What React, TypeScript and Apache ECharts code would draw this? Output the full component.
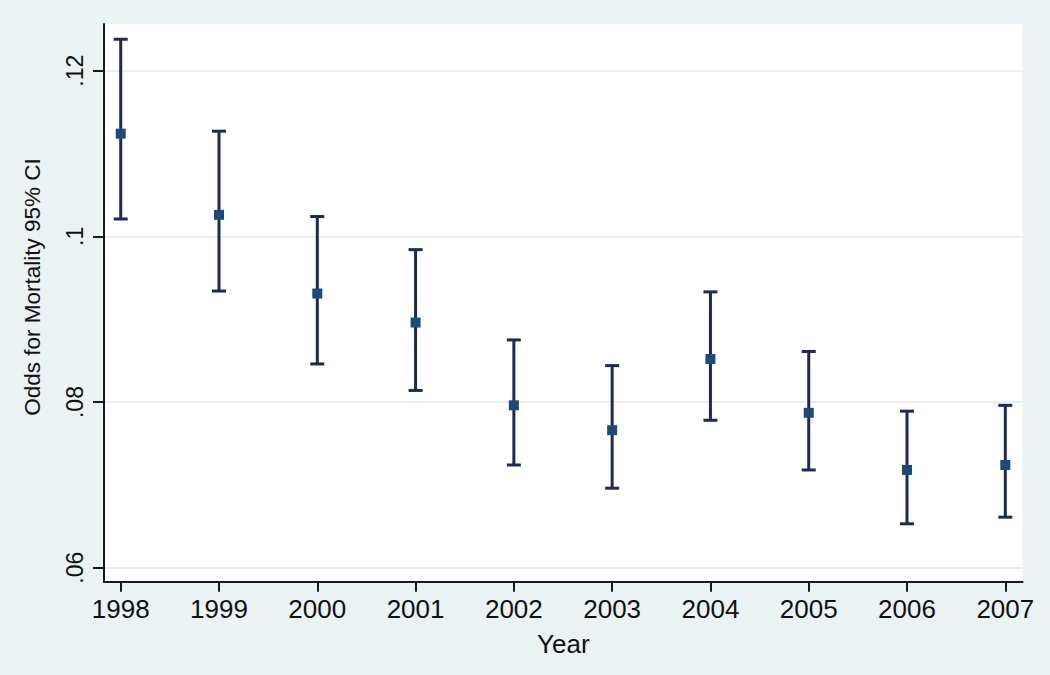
import React, { useEffect, useRef } from "react";
import * as echarts from "echarts";

const years = [1998, 1999, 2000, 2001, 2002, 2003, 2004, 2005, 2006, 2007];
const odds = [0.1124, 0.1026, 0.0931, 0.0896, 0.0796, 0.0766, 0.0852, 0.0787, 0.0718, 0.0724];
const lowerCI = [0.1021, 0.0934, 0.0846, 0.0814, 0.0724, 0.0696, 0.0778, 0.0718, 0.0653, 0.0661];
const upperCI = [0.1238, 0.1127, 0.1024, 0.0984, 0.0875, 0.0844, 0.0933, 0.0861, 0.0789, 0.0796];
const yTickValues = [0.06, 0.08, 0.1, 0.12];
const yTickLabels = [".06", ".08", ".1", ".12"];

const FONT = "'Liberation Sans', Arial, Helvetica, sans-serif";
const BAR = "#1b2a58";
const MARK = "#1d4a78";
const AXIS = "#1a1a1a";
const GRIDC = "#e6eff1";

export default function App() {
  const ref = useRef<HTMLDivElement>(null);
  useEffect(() => {
    if (!ref.current) return;
    const chart = echarts.init(ref.current, undefined, { renderer: "svg" });
    const ciData = years.map((y, i) => [y, lowerCI[i], upperCI[i]]);
    const option: any = {
      animation: false,
      backgroundColor: "#eaf2f3",
      grid: {
        left: 104,
        right: 27.4,
        top: 24,
        bottom: 93.3,
        show: true,
        backgroundColor: "#ffffff",
        borderWidth: 0,
      },
      xAxis: {
        type: "value",
        min: 1997.83,
        max: 2007.176,
        name: "Year",
        nameLocation: "middle",
        nameGap: 49,
        nameTextStyle: { fontFamily: FONT, fontSize: 26, color: "#111" },
        axisLine: { show: true, onZero: false, lineStyle: { color: AXIS, width: 2 } },
        axisTick: { show: true, length: 10, customValues: years, lineStyle: { color: AXIS, width: 2 } },
        axisLabel: {
          customValues: years,
          margin: 14,
          fontFamily: FONT,
          fontSize: 26,
          color: "#111",
          formatter: (v: number) => String(Math.round(v)),
        },
        splitLine: { show: false },
      },
      yAxis: {
        type: "value",
        min: 0.05831,
        max: 0.12564,
        axisLine: { show: true, onZero: false, lineStyle: { color: AXIS, width: 2 } },
        axisTick: { show: true, length: 11, customValues: yTickValues, lineStyle: { color: AXIS, width: 2 } },
        axisLabel: {
          customValues: yTickValues,
          rotate: 90,
          margin: 18,
          fontFamily: FONT,
          fontSize: 23,
          color: "#111",
          formatter: (v: number) => {
            const idx = yTickValues.findIndex((t) => Math.abs(t - v) < 1e-6);
            return idx >= 0 ? yTickLabels[idx] : "";
          },
        },
        splitLine: { show: true, lineStyle: { color: GRIDC, width: 2 } },
      },
      graphic: [
        {
          type: "text",
          x: 32,
          y: 287,
          rotation: Math.PI / 2,
          style: {
            text: "Odds for Mortality 95% CI",
            font: `22.5px ${FONT}`,
            fill: "#111",
            textAlign: "center",
            textVerticalAlign: "middle",
          },
        },
      ],
      series: [
        {
          type: "custom",
          data: ciData,
          encode: { x: 0, y: [1, 2] },
          renderItem: (params: any, api: any) => {
            const x = api.value(0);
            const lo = api.coord([x, api.value(1)]);
            const hi = api.coord([x, api.value(2)]);
            const hw = 7;
            const st = { stroke: BAR, lineWidth: 3, fill: "none" };
            return {
              type: "group",
              children: [
                { type: "line", shape: { x1: lo[0], y1: lo[1], x2: hi[0], y2: hi[1] }, style: st },
                { type: "line", shape: { x1: lo[0] - hw, y1: lo[1], x2: lo[0] + hw, y2: lo[1] }, style: st },
                { type: "line", shape: { x1: hi[0] - hw, y1: hi[1], x2: hi[0] + hw, y2: hi[1] }, style: st },
              ],
            };
          },
          z: 2,
        },
        {
          type: "scatter",
          data: years.map((y, i) => [y, odds[i]]),
          symbol: "rect",
          symbolSize: 10,
          itemStyle: { color: MARK, opacity: 1 },
          z: 3,
        },
      ],
    };
    chart.setOption(option);
    return () => chart.dispose();
  }, []);
  return <div ref={ref} style={{ width: 1050, height: 675, position: "absolute", left: 0, top: 0 }} />;
}
